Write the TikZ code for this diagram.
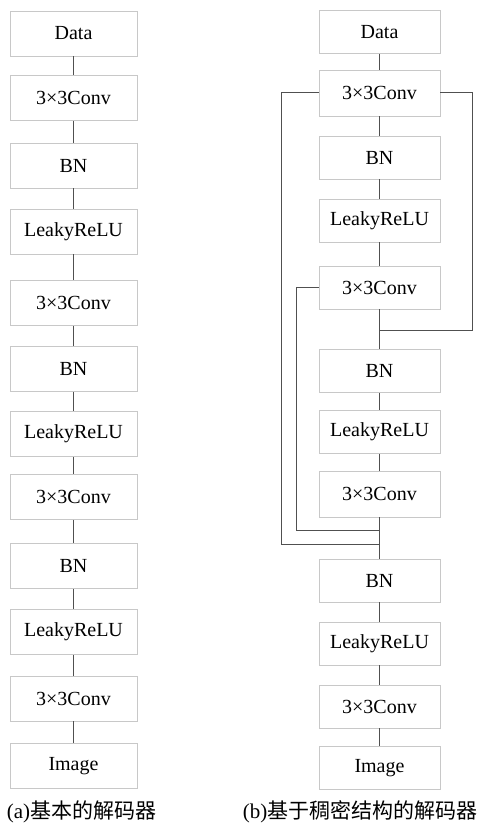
\documentclass[tikz,border=0pt]{standalone}
\usepackage{fontspec}
\setmainfont{Liberation Serif}
\newfontfamily\latinfont{Liberation Serif}
\newfontfamily\cjkfont{Noto Sans CJK SC}
\usepackage{tikz}

\definecolor{boxgray}{RGB}{200,200,200}
\definecolor{linegray}{RGB}{80,80,80}

\begin{document}
\begin{tikzpicture}[x=1pt,y=-1pt,
        layerL/.style={shape=rectangle,draw=boxgray,line width=0.8pt,minimum width=127pt,minimum height=45pt,inner sep=0pt,font=\latinfont\fontsize{20}{23}\selectfont},
        layerR/.style={layerL,minimum width=121pt,minimum height=43pt},
        link/.style={draw=linegray,line width=1pt},
        caption/.style={font=\fontsize{21}{24}\selectfont\cjkfont,inner sep=0pt}]
        \useasboundingbox (0,0) rectangle (482,824);

        % (a) basic decoder
        \node[layerL] (a1) at (73.5, 33.5)  {Data};
        \node[layerL] (a2) at (73.5, 98)    {3×3Conv};
        \node[layerL] (a3) at (73.5, 165.5) {BN};
        \node[layerL] (a4) at (73.5, 231.5) {LeakyReLU};
        \node[layerL] (a5) at (73.5, 303)   {3×3Conv};
        \node[layerL] (a6) at (73.5, 369)   {BN};
        \node[layerL] (a7) at (73.5, 434)   {LeakyReLU};
        \node[layerL] (a8) at (73.5, 497)   {3×3Conv};
        \node[layerL] (a9) at (73.5, 566)   {BN};
        \node[layerL] (a10) at (73.5, 632)  {LeakyReLU};
        \node[layerL] (a11) at (73.5, 698.5) {3×3Conv};
        \node[layerL] (a12) at (73.5, 766)  {Image};

        % (b) dense decoder
        \node[layerR] (b1) at (379.5, 32)    {Data};
        \node[layerR,minimum height=46pt] (b2) at (379.5, 93) {3×3Conv};
        \node[layerR] (b3) at (379.5, 157.5) {BN};
        \node[layerR] (b4) at (379.5, 220.5) {LeakyReLU};
        \node[layerR] (b5) at (379.5, 287.5) {3×3Conv};
        \node[layerR] (b6) at (379.5, 371)   {BN};
        \node[layerR] (b7) at (379.5, 432)   {LeakyReLU};
        \node[layerR,minimum height=46pt] (b8) at (379.5, 494) {3×3Conv};
        \node[layerR] (b9) at (379.5, 580.5) {BN};
        \node[layerR] (b10) at (379.5, 643.5) {LeakyReLU};
        \node[layerR] (b11) at (379.5, 706.5) {3×3Conv};
        \node[layerR] (b12) at (379.5, 768)  {Image};

        \node[caption] (capa) at (81.5, 812)  {{\latinfont(a)}基本的解码器};
        \node[caption] (capb) at (360, 812)   {{\latinfont(b)}基于稠密结构的解码器};

	\path[link] (a1) -- (a2);
	\path[link] (a2) -- (a3);
	\path[link] (a3) -- (a4);
	\path[link] (a4) -- (a5);
	\path[link] (a5) -- (a6);
	\path[link] (a6) -- (a7);
	\path[link] (a7) -- (a8);
	\path[link] (a8) -- (a9);
	\path[link] (a9) -- (a10);
	\path[link] (a10) -- (a11);
	\path[link] (a11) -- (a12);

	\path[link] (b1) -- (b2);
	\path[link] (b2) -- (b3);
	\path[link] (b3) -- (b4);
	\path[link] (b4) -- (b5);
	\path[link] (b5) -- (b6);
	\path[link] (b6) -- (b7);
	\path[link] (b7) -- (b8);
	\path[link] (b8) -- (b9);
	\path[link] (b9) -- (b10);
	\path[link] (b10) -- (b11);
	\path[link] (b11) -- (b12);

        % dense skip connections
        \coordinate (j1) at (379.5, 330);
        \coordinate (j2) at (379.5, 530);
        \coordinate (j3) at (379.5, 544);
	\path[link] (b2.east) -| (472, 330) -- (j1);
	\path[link] (b2.west) -| (281, 544) -- (j3);
	\path[link] (b5.west) -| (296, 530) -- (j2);
\end{tikzpicture}
\end{document}
